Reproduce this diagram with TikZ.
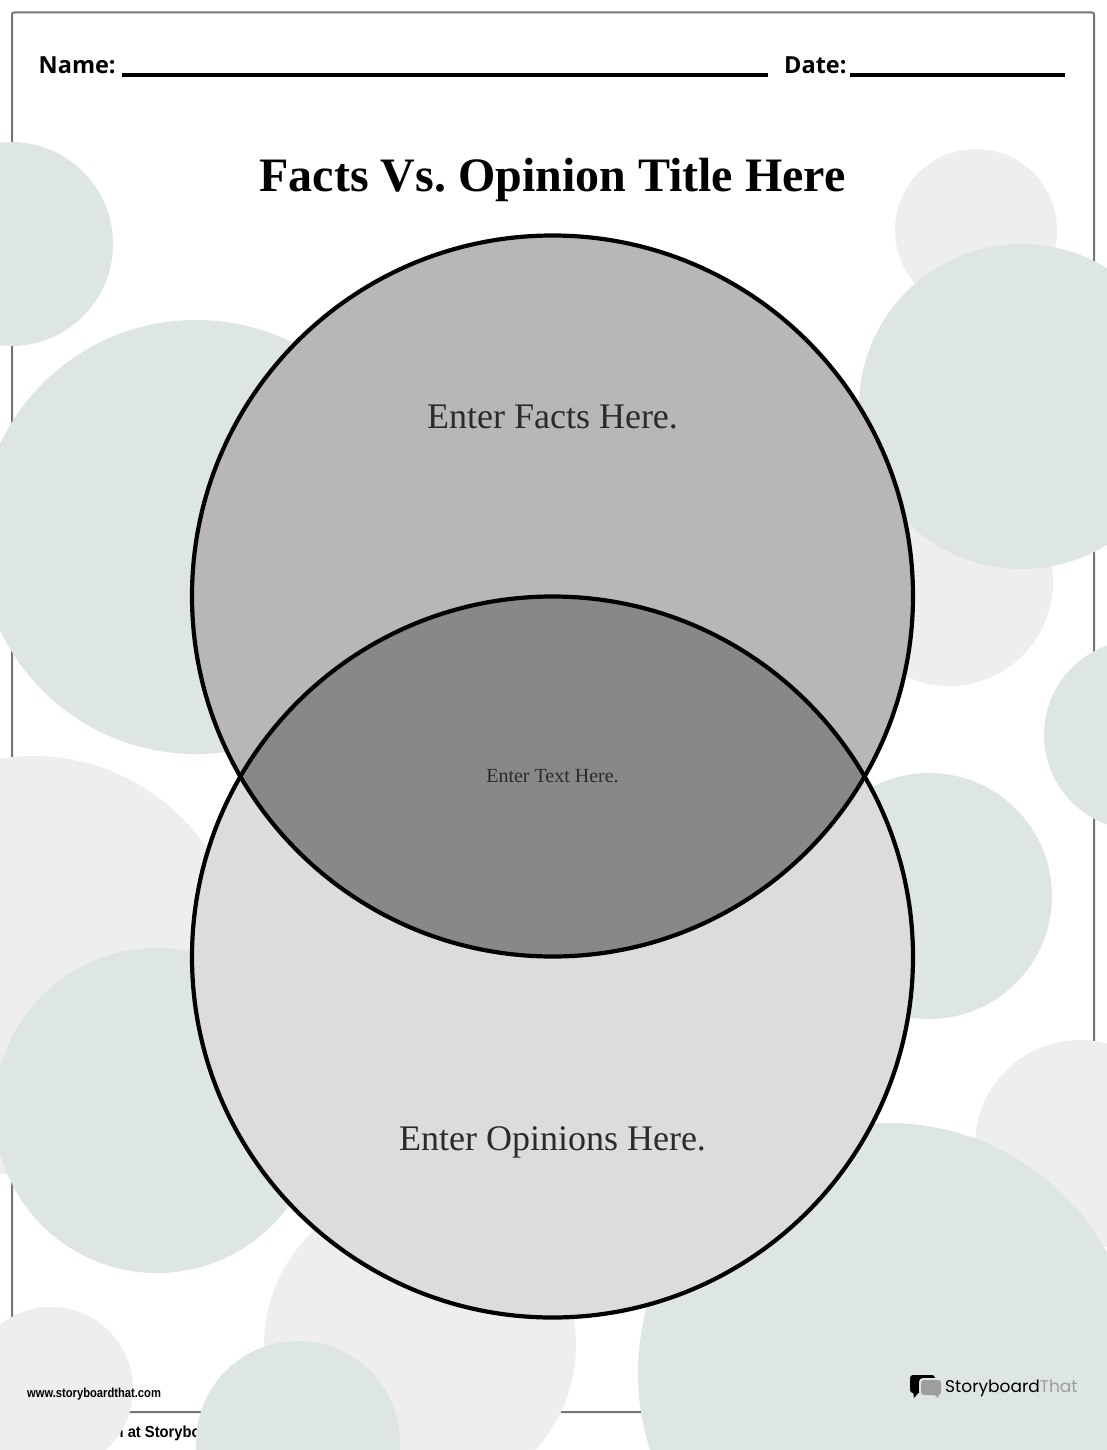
\documentclass[tikz,border=0pt]{standalone}
\usepackage{fontspec}
\setmainfont{Liberation Serif}
\newfontfamily\HeadFont{Open Sans}
\newfontfamily\WebFont{Liberation Sans}
\newfontfamily\LogoFont{Poppins}
\usetikzlibrary{positioning}
\definecolor{BackTeal}{HTML}{DDE5E5}
\definecolor{BackGray}{HTML}{EEEEEE}
\definecolor{FrameGray}{HTML}{757575}
\definecolor{TopFill}{HTML}{B7B7B7}
\definecolor{LowFill}{HTML}{DCDCDC}
\definecolor{MidFill}{HTML}{888888}
\definecolor{EnterText}{HTML}{2B2B2B}
\definecolor{LogoGray}{HTML}{9E9E9E}

\begin{document}
\frenchspacing
\begin{tikzpicture}[
		x=1pt,y=-1pt,
		VennLine/.style={draw=black,line width=4.2pt},
		HeadText/.style={anchor=base west,inner sep=0pt,font=\HeadFont\bfseries\fontsize{23.5}{28}\selectfont},
		FillLine/.style={draw=black,line width=3.2pt},
		EnterLabel/.style={inner sep=0pt,anchor=base,text=EnterText}
		]
		\useasboundingbox (0,0) rectangle (1107,1450);
		\fill[white] (0,0) rectangle (1107,1450);
		
		% page frame
		\draw[FrameGray,line width=2pt,rounded corners=2pt] (12,12.5) rectangle (1094,1412);
		
		% text under the circles
		\node[anchor=base west,inner sep=0pt,xscale=.92,font=\WebFont\bfseries\fontsize{16}{19}\selectfont] (cutoff) at (114.5,1437) {n at Storyboard That};
		
		% background circles
		\foreach \Xc/\Yc/\Rc in {976/230/81, 949/582/104, 33/966/210, 1080/1145/105, 420/1345/156, 51/1389/82}
		\fill[BackGray] (\Xc,\Yc) circle (\Rc);
		
		\foreach \Xc/\Yc/\Rc in {11/244/102, 196/537/217, 1021.5/406.5/162.5, 1139/735/95, 157/1110.5/162.5, 929/896/123, 888/1373/250, 298/1443/102}
		\fill[BackTeal] (\Xc,\Yc) circle (\Rc);
		
		% header
		\node[HeadText] (name) at (38.5,74) {Name:};
		\node[HeadText] (date) at (784,74) {Date:};
		\draw[FillLine] (122,75)--(768,75);
		\draw[FillLine] (850,75)--(1065,75);
		
		\node[anchor=base,inner sep=0pt,font=\bfseries\fontsize{48}{58}\selectfont] (title) at (552.5,192) {Facts Vs. Opinion Title Here};
		
		% venn
		\coordinate (A) at (552.5,596);
		\coordinate (B) at (552.5,957);
		
		\fill[LowFill] (B) circle (360.5);
		\fill[TopFill] (A) circle (360.5);
		\begin{scope}
			\clip (A) circle (360.5);
			\fill[MidFill] (B) circle (360.5);
		\end{scope}
		\draw[VennLine] (A) circle (360.5);
		\draw[VennLine] (B) circle (360.5);
		
		\node[EnterLabel,font=\fontsize{36}{43}\selectfont] (facts) at (552.5,428) {Enter Facts Here.};
		\node[EnterLabel,font=\fontsize{20}{24}\selectfont] (both) at (552.5,782) {Enter Text Here.};
		\node[EnterLabel,font=\fontsize{36}{43}\selectfont] (opinions) at (552.5,1150) {Enter Opinions Here.};
		
		% footer
		\node[anchor=base west,inner sep=0pt,xscale=.86,font=\WebFont\bfseries\fontsize{13}{16}\selectfont] (web) at (27,1397) {www.storyboardthat.com};
		
		% logo
		\fill[black,rounded corners=3pt] (910,1375) rectangle (935,1393);
		\fill[black] (913,1391)--(914,1398)--(920,1391)--cycle;
		\fill[BackTeal,rounded corners=4pt] (919,1378) rectangle (942.5,1396);
		\fill[LogoGray,rounded corners=3pt] (921,1380) rectangle (941,1395);
		\fill[LogoGray] (934,1394)--(938,1398)--(939,1394)--cycle;
		\node[anchor=base west,inner sep=0pt,font=\LogoFont\fontsize{17}{21}\selectfont] (logo) at (945,1392) {Storyboard\textcolor{LogoGray}{That}};
		
	\end{tikzpicture}
\end{document}
